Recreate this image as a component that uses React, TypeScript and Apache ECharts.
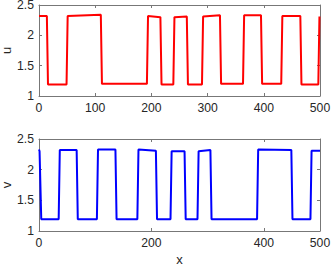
import React, { useEffect, useRef } from "react";
import * as echarts from "echarts";

const uX = [0, 14, 16, 49, 51, 110, 112, 192, 194, 216, 218, 239, 241, 263, 265, 290, 292, 322, 324, 363, 365, 395, 397, 431, 433, 465, 467, 497, 499, 500];
const uY = [2.32, 2.32, 1.19, 1.19, 2.32, 2.34, 1.2, 1.2, 2.32, 2.3, 1.19, 1.19, 2.3, 2.31, 1.19, 1.19, 2.31, 2.33, 1.2, 1.2, 2.33, 2.33, 1.2, 1.2, 2.32, 2.32, 1.19, 1.19, 2.31, 2.31];

const vX = [0, 1, 4, 35, 37, 67, 69, 103, 105, 136, 138, 175, 177, 208, 210, 234, 236, 259, 261, 282, 284, 305, 307, 388, 390, 449, 451, 483, 485, 500];
const vY = [2.33, 2.3, 1.19, 1.19, 2.32, 2.32, 1.19, 1.19, 2.33, 2.33, 1.19, 1.19, 2.33, 2.31, 1.19, 1.19, 2.3, 2.3, 1.19, 1.19, 2.3, 2.32, 1.19, 1.19, 2.33, 2.32, 1.19, 1.19, 2.31, 2.31];

const FONT = "Liberation Sans";
const AX = "#777";
const TXT = "#262626";
const FS = 12.2;

function xAxisMain(gridIndex: number, interval: number) {
  return {
    type: "value",
    gridIndex,
    min: 0,
    max: 500,
    interval,
    axisLine: { show: true, onZero: false, lineStyle: { color: AX, width: 1 } },
    axisTick: { show: true, inside: true, length: 3, lineStyle: { color: AX } },
    axisLabel: { color: TXT, fontFamily: FONT, fontSize: FS, margin: 6 },
    splitLine: { show: false },
  };
}
function xAxisMirror(gridIndex: number, interval: number) {
  return {
    type: "value",
    gridIndex,
    position: "top",
    min: 0,
    max: 500,
    interval,
    axisLine: { show: true, onZero: false, lineStyle: { color: AX, width: 1 } },
    axisTick: { show: true, inside: true, length: 3, lineStyle: { color: AX } },
    axisLabel: { show: false },
    splitLine: { show: false },
  };
}
function yAxisMain(gridIndex: number, name: string) {
  return {
    type: "value",
    gridIndex,
    min: 1,
    max: 2.5,
    interval: 0.5,
    name,
    nameLocation: "middle",
    nameGap: 26,
    nameMoveOverlap: false,
    nameTextStyle: { color: TXT, fontFamily: FONT, fontSize: 13 },
    axisLine: { show: true, onZero: false, lineStyle: { color: AX, width: 1 } },
    axisTick: { show: true, inside: true, length: 3, lineStyle: { color: AX } },
    axisLabel: { color: TXT, fontFamily: FONT, fontSize: FS, lineHeight: 10, margin: 5 },
    splitLine: { show: false },
  };
}
function yAxisMirror(gridIndex: number) {
  return {
    type: "value",
    gridIndex,
    position: "right",
    min: 1,
    max: 2.5,
    interval: 0.5,
    axisLine: { show: true, onZero: false, lineStyle: { color: AX, width: 1 } },
    axisTick: { show: true, inside: true, length: 3, lineStyle: { color: AX } },
    axisLabel: { show: false },
    splitLine: { show: false },
  };
}

export default function App() {
  const ref = useRef<HTMLDivElement>(null);
  useEffect(() => {
    if (!ref.current) return;
    const chart = echarts.init(ref.current, undefined, { renderer: "svg" });
    chart.setOption({
      animation: false,
      backgroundColor: "#fff",
      grid: [
        { left: 39, top: 5, width: 281, height: 91, containLabel: false, outerBoundsMode: "none" },
        { left: 39, top: 139, width: 281, height: 92, containLabel: false, outerBoundsMode: "none" },
      ],
      xAxis: [
        xAxisMain(0, 100),
        xAxisMirror(0, 100),
        { ...xAxisMain(1, 200), name: "x", nameLocation: "middle", nameGap: 22, nameMoveOverlap: false, nameTextStyle: { color: TXT, fontFamily: FONT, fontSize: 13 } },
        xAxisMirror(1, 200),
      ],
      yAxis: [yAxisMain(0, "u"), yAxisMirror(0), yAxisMain(1, "v"), yAxisMirror(1)],
      series: [
        {
          type: "line",
          xAxisIndex: 0,
          yAxisIndex: 0,
          data: uX.map((x, i) => [x, uY[i]]),
          showSymbol: false,
          symbol: "none",
          lineStyle: { color: "#ff0000", width: 2 },
          itemStyle: { color: "#ff0000" },
        },
        {
          type: "line",
          xAxisIndex: 2,
          yAxisIndex: 2,
          data: vX.map((x, i) => [x, vY[i]]),
          showSymbol: false,
          symbol: "none",
          lineStyle: { color: "#0000ff", width: 2 },
          itemStyle: { color: "#0000ff" },
        },
      ],
    });
    return () => chart.dispose();
  }, []);
  return <div ref={ref} style={{ width: 332, height: 266, position: "absolute", left: 0, top: 0 }} />;
}
